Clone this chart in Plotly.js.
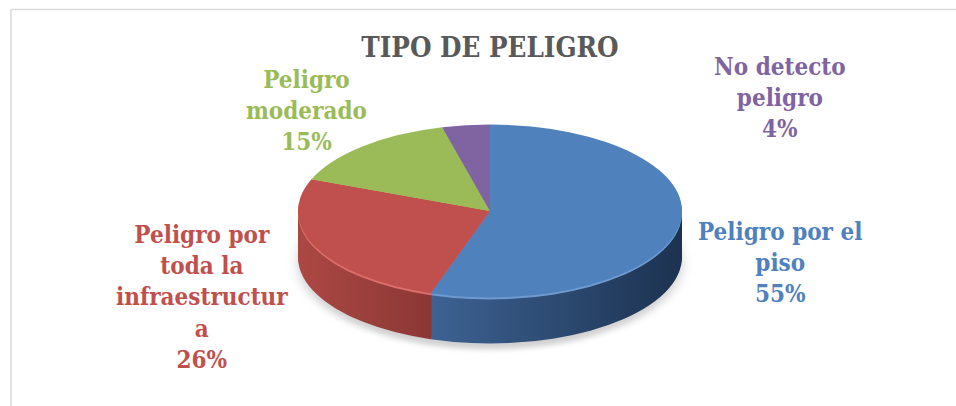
<!DOCTYPE html>
<html>
<head>
<meta charset="utf-8">
<script src="https://cdn.plot.ly/plotly-3.0.1.min.js"></script>
<style>
  html, body { margin: 0; padding: 0; background: #ffffff; }
  #chart { width: 956px; height: 406px; }
</style>
</head>
<body>
<div id="chart"></div>
<script>
// ---- data ----
const categories = ["Peligro por el piso", "Peligro por toda la infraestructura", "Peligro moderado", "No detecto peligro"];
const percents = [55, 26, 15, 4];
const chartTitle = "TIPO DE PELIGRO";

// ---- styling ----
const topColors   = ["#4F81BD", "#C0504D", "#9BBB59", "#8064A2"];
const rimColors   = ["#6E9AD0", "#DC6E6A", "#B5D27A", "#9C83BD"];
const sideLight   = ["#3D6293", "#AC4844", "#88A64D", "#715891"];
const sideDark    = ["#1C3250", "#7C302E", "#5B7032", "#4A3862"];
const labelColors = topColors;
const labelCenters = [[780, 262], [202, 297], [306, 110], [780, 97]]; // px
const W = 956, H = 406;
const FONT = "DejaVu Serif Condensed, DejaVu Serif, serif";

// pie geometry (pixels)
const pieCx = 490, pieR = 192, topCy = 211, squash = 0.45, depth = 46, step = 2, shadowOff = 52;

function wrap(text, maxChars) {
  const words = text.split(" ");
  const lines = [];
  let cur = "";
  for (const w of words) {
    const cand = cur ? cur + " " + w : w;
    if (cand.length <= maxChars) { cur = cand; continue; }
    if (cur) lines.push(cur);
    let rest = w;
    while (rest.length > maxChars) { lines.push(rest.slice(0, maxChars)); rest = rest.slice(maxChars); }
    cur = rest;
  }
  if (cur) lines.push(cur);
  return lines.join("<br>");
}

const domainX = [(pieCx - pieR) / W, (pieCx + pieR) / W];
const domainY = [0.02, 0.98];

// layers: shadow, side layers (deep -> shallow), top
const layers = [{ off: shadowOff, kind: "shadow" }];
for (let d = depth; d > 0; d -= step) layers.push({ off: d, kind: d === step ? "rim" : "side" });
layers.push({ off: 0, kind: "top" });

const traces = layers.map(function (L) {
  let colors = topColors;
  if (L.kind === "side") colors = sideLight;
  if (L.kind === "rim") colors = rimColors;
  if (L.kind === "shadow") colors = categories.map(function () { return "#d0d0d0"; });
  return {
    type: "pie",
    values: percents,
    labels: categories,
    sort: false,
    direction: "clockwise",
    rotation: 0,
    textinfo: "none",
    hoverinfo: "skip",
    showlegend: false,
    domain: { x: domainX, y: domainY },
    marker: { colors: colors, line: { width: 0 } }
  };
});

const annotations = categories.map(function (c, i) {
  return {
    xref: "paper", yref: "paper",
    x: labelCenters[i][0] / W, y: 1 - labelCenters[i][1] / H,
    xanchor: "center", yanchor: "middle",
    text: wrap(c, 14) + "<br>" + percents[i] + "%",
    showarrow: false, align: "center",
    font: { family: FONT, size: 24, color: labelColors[i], weight: "bold" }
  };
});

const layout = {
  width: W, height: H,
  margin: { l: 0, r: 0, t: 0, b: 0 },
  paper_bgcolor: "#ffffff",
  showlegend: false,
  title: {
    text: "<b>" + chartTitle + "</b>",
    x: 490 / W, xanchor: "center",
    y: 1 - 47 / H, yanchor: "middle",
    font: { family: FONT, size: 27.5, color: "#595959" }
  },
  annotations: annotations,
  shapes: [
    { type: "line", xref: "paper", yref: "paper", x0: 11 / W, x1: 1, y0: 1 - 9.5 / H, y1: 1 - 9.5 / H, line: { color: "#D9D9D9", width: 1.5 } },
    { type: "line", xref: "paper", yref: "paper", x0: 11 / W, x1: 11 / W, y0: 0, y1: 1 - 9.5 / H, line: { color: "#D9D9D9", width: 1.5 } }
  ]
};

Plotly.newPlot("chart", traces, layout, { staticPlot: true, displayModeBar: false }).then(function (gd) {
  const svgNS = "http://www.w3.org/2000/svg";
  const mainSvg = gd.querySelector("svg.main-svg");
  const defs = document.createElementNS(svgNS, "defs");
  // blur for shadow
  const filt = document.createElementNS(svgNS, "filter");
  filt.setAttribute("id", "pieShadowBlur");
  filt.setAttribute("x", "-20%"); filt.setAttribute("y", "-40%");
  filt.setAttribute("width", "140%"); filt.setAttribute("height", "180%");
  const blur = document.createElementNS(svgNS, "feGaussianBlur");
  blur.setAttribute("stdDeviation", "6");
  filt.appendChild(blur);
  defs.appendChild(filt);
  // horizontal gradients for the side of each slice
  categories.forEach(function (c, k) {
    const g = document.createElementNS(svgNS, "linearGradient");
    g.setAttribute("id", "sideGrad" + k);
    g.setAttribute("x1", "0"); g.setAttribute("x2", "1"); g.setAttribute("y1", "0"); g.setAttribute("y2", "0");
    [[0, sideLight[k]], [1, sideDark[k]]].forEach(function (s) {
      const st = document.createElementNS(svgNS, "stop");
      st.setAttribute("offset", s[0]);
      st.setAttribute("stop-color", s[1]);
      g.appendChild(st);
    });
    defs.appendChild(g);
  });
  mainSvg.insertBefore(defs, mainSvg.firstChild);

  const groups = gd.querySelectorAll(".pielayer g.trace");
  groups.forEach(function (g, i) {
    const cy = gd.calcdata[i][0].cy;
    const ty = topCy + layers[i].off - squash * cy;
    g.setAttribute("transform", "translate(0," + ty + ") scale(1," + squash + ")");
    if (layers[i].kind === "shadow") {
      g.setAttribute("filter", "url(#pieShadowBlur)");
    }
    if (layers[i].kind === "side") {
      g.querySelectorAll("path.surface").forEach(function (p, k) {
        p.style.fill = "url(#sideGrad" + k + ")";
      });
    }
  });
});
</script>
</body>
</html>
